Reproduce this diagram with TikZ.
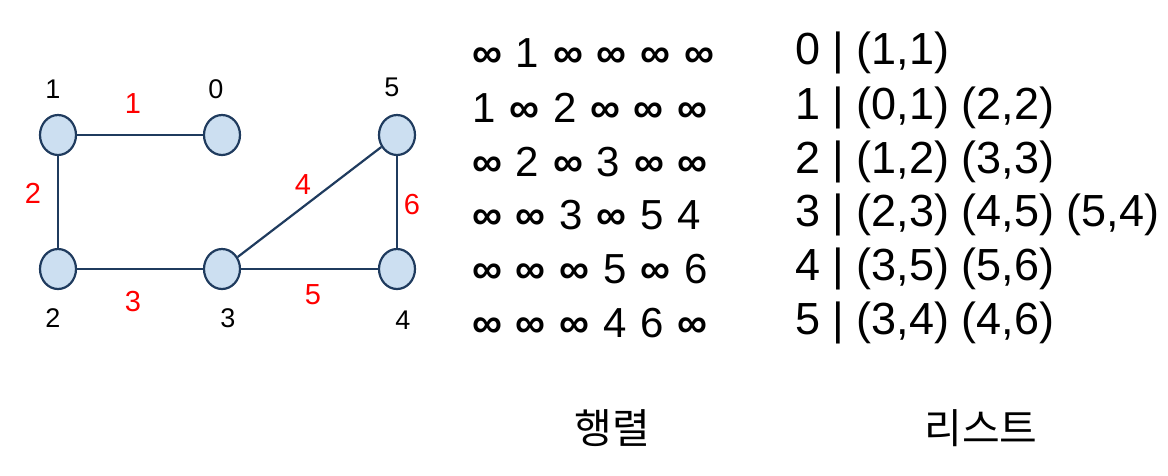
\documentclass[tikz,border=0pt]{standalone}
\usepackage{fontspec}
\setmainfont{Liberation Sans}
\newfontfamily\krfont{Noto Sans CJK KR}
\usetikzlibrary{shapes.geometric}
\definecolor{nodefill}{HTML}{CCDFF1}
\definecolor{nodeline}{HTML}{1F3B5E}
\definecolor{wred}{HTML}{FF0000}
\newcommand{\inff}{{\bfseries ∞}}
\newcommand{\mgap}{\hspace{13.8pt}}
\tikzset{
  vert/.style={ellipse, draw=nodeline, fill=nodefill, line width=2.2pt, minimum width=36pt, minimum height=40pt, inner sep=0pt},
  edge/.style={draw=nodeline, line width=2.2pt},
  vlabel/.style={font=\fontsize{27}{30}\selectfont, inner sep=0pt},
  wlabel/.style={font=\fontsize{29}{33}\selectfont, text=wred, inner sep=0pt},
  mattext/.style={font=\fontsize{42}{48}\selectfont, anchor=west, inner sep=0pt},
  rowtext/.style={font=\fontsize{45}{50}\selectfont, anchor=west, inner sep=0pt},
  krtext/.style={font=\krfont\fontsize{41}{46}\selectfont, inner sep=0pt}
}
\begin{document}
\begin{tikzpicture}[x=1pt,y=-1pt]
\useasboundingbox (0,0) rectangle (1168,475);
% vertices
\node[vert] (v1) at (58,135) {};
\node[vert] (v0) at (222,135) {};
\node[vert] (v5) at (397,135) {};
\node[vert] (v2) at (58,269) {};
\node[vert] (v3) at (222,269) {};
\node[vert] (v4) at (397,269) {};
% edges
\draw[edge] (v1) -- (v0);
\draw[edge] (v1) -- (v2);
\draw[edge] (v2) -- (v3);
\draw[edge] (v3) -- (v5);
\draw[edge] (v3) -- (v4);
\draw[edge] (v5) -- (v4);
% vertex labels
\node[vlabel] (l1) at (53,89) {1};
\node[vlabel] (l0) at (216,89) {0};
\node[vlabel] (l5) at (392,87) {5};
\node[vlabel] (l2) at (53,318) {2};
\node[vlabel] (l3) at (228,318) {3};
\node[vlabel] (l4) at (403,320) {4};
% weights
\node[wlabel] (w1) at (133,104) {1};
\node[wlabel] (w2) at (33,193) {2};
\node[wlabel] (w3) at (133,302) {3};
\node[wlabel] (w4) at (303,185) {4};
\node[wlabel] (w5) at (313,295) {5};
\node[wlabel] (w6) at (412,205) {6};
% matrix
\node[mattext] (m0) at (472,53) {\inff\mgap 1\mgap\inff\mgap\inff\mgap\inff\mgap\inff};
\node[mattext] (m1) at (472,108) {1\mgap\inff\mgap 2\mgap\inff\mgap\inff\mgap\inff};
\node[mattext] (m2) at (472,162) {\inff\mgap 2\mgap\inff\mgap 3\mgap\inff\mgap\inff};
\node[mattext] (m3) at (472,215) {\inff\mgap\inff\mgap 3\mgap\inff\mgap 5\mgap 4};
\node[mattext] (m4) at (472,269) {\inff\mgap\inff\mgap\inff\mgap 5\mgap\inff\mgap 6};
\node[mattext] (m5) at (472,323) {\inff\mgap\inff\mgap\inff\mgap 4\mgap 6\mgap\inff};
% list
\node[rowtext] (a0) at (795,53) {0 | (1,1)};
\node[rowtext] (a1) at (795,108) {1 | (0,1) (2,2)};
\node[rowtext] (a2) at (795,162) {2 | (1,2) (3,3)};
\node[rowtext] (a3) at (795,215) {3 | (2,3) (4,5) (5,4)};
\node[rowtext] (a4) at (795,269) {4 | (3,5) (5,6)};
\node[rowtext] (a5) at (795,323) {5 | (3,4) (4,6)};
% captions
\node[krtext] (k1) at (612,428) {행렬};
\node[krtext] (k2) at (981,428) {리스트};
\end{tikzpicture}
\end{document}
